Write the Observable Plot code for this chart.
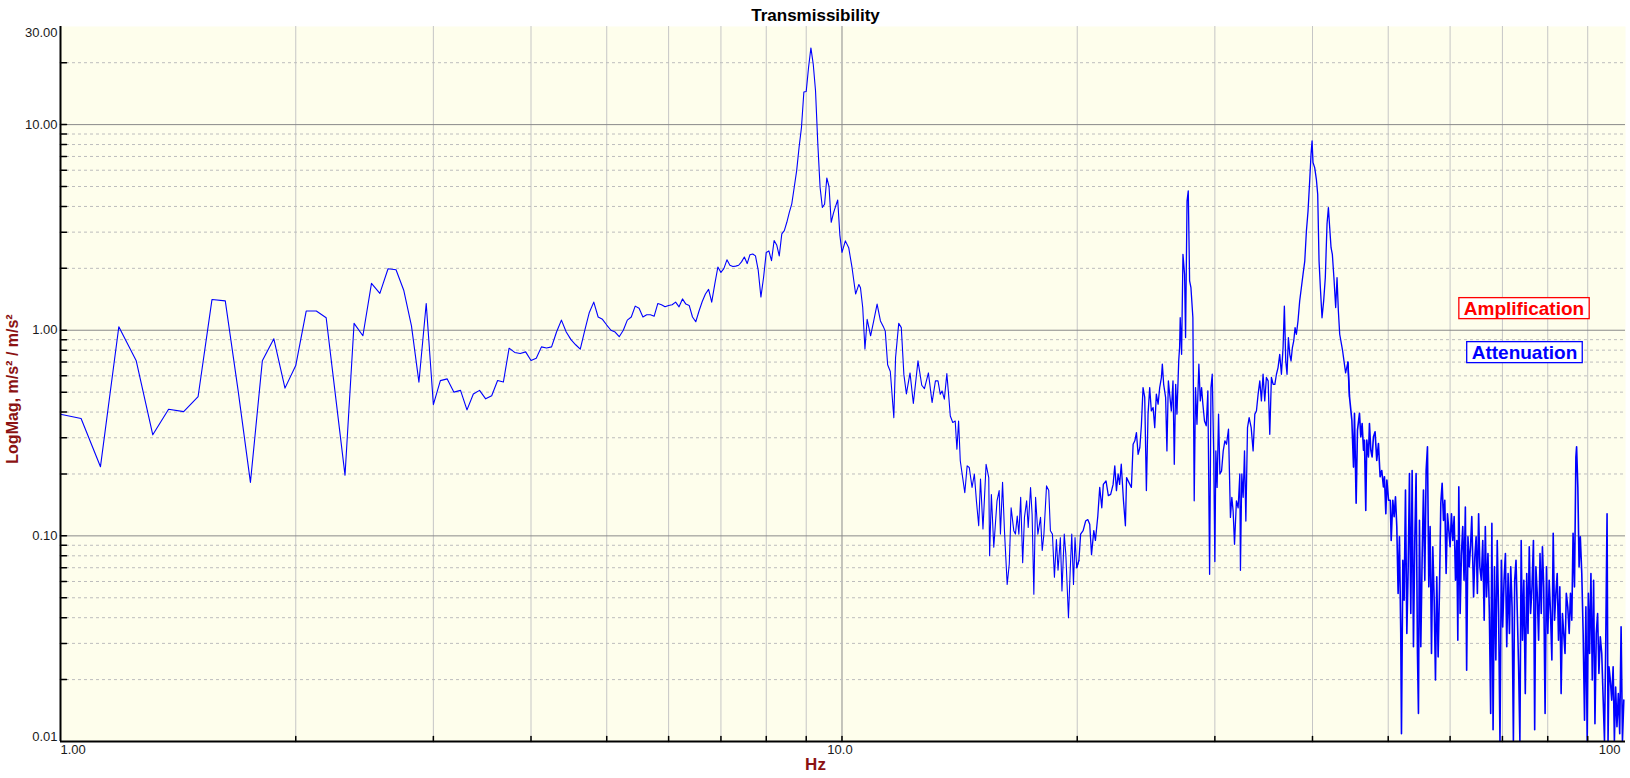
<!DOCTYPE html>
<html><head><meta charset="utf-8">
<script src="https://cdn.jsdelivr.net/npm/d3@7"></script>
<script src="https://cdn.jsdelivr.net/npm/@observablehq/plot@0.6"></script>
<style>html,body{margin:0;padding:0;background:#fff;} svg{display:block}</style>
</head><body><div id="chart"></div>
<script>
// ---- Data ----
// Low-frequency bins: 1 Hz onward at 0.0625 Hz resolution, magnitude per bin
const lowStartHz = 1, lowStepHz = 0.0625;
const lowMag = [
  0.39, 0.372, 0.217, 1.04, 0.71, 0.31, 0.413, 0.402, 0.476, 1.41, 1.39, 0.51, 0.182, 0.71, 0.908, 0.523,
  0.673, 1.24, 1.24, 1.15, 0.47, 0.197, 1.08, 0.94, 1.69, 1.51, 1.99, 1.97, 1.56, 1.05, 0.559, 1.35,
  0.435, 0.569, 0.58, 0.50, 0.51, 0.41, 0.49, 0.51, 0.464, 0.48, 0.57, 0.56, 0.818, 0.78, 0.77, 0.785,
  0.712, 0.73, 0.83, 0.82, 0.83, 0.98, 1.12, 0.98, 0.90, 0.85, 0.81, 1.0, 1.22, 1.37, 1.16, 1.13,
  1.06, 1.0, 0.98, 0.93, 1.0, 1.12, 1.16, 1.31, 1.28, 1.16, 1.19, 1.19, 1.17, 1.35, 1.33, 1.30,
  1.32, 1.33, 1.37, 1.30, 1.42, 1.34, 1.32, 1.16, 1.10, 1.24, 1.38, 1.50, 1.58, 1.37, 1.68, 2.03,
  1.91, 2.0, 2.20, 2.07, 2.04, 2.05, 2.07, 2.15, 2.27, 2.11, 2.33, 2.35, 2.30, 1.96, 1.45, 1.81,
  2.39, 2.43, 2.18, 2.73, 2.6, 2.3, 2.94, 3.05, 3.35, 3.74, 4.12, 4.96, 5.97, 7.76, 9.7, 14.4,
  14.5, 19.0, 23.6, 19.7, 14.6, 8.06, 4.96, 3.96, 4.1, 5.5, 5.0, 3.35, 3.7, 4.0, 4.3, 2.9
];
// Higher frequencies: [Hz, magnitude] vertices
const band10to20 = [[10.00,2.39],[10.10,2.72],[10.20,2.52],[10.30,2.02],[10.41,1.50],[10.51,1.67],[10.56,1.61],[10.63,1.29],[10.70,0.81],[10.77,1.13],[10.88,0.94],[10.98,1.11],[11.09,1.34],[11.20,1.11],[11.31,1.03],[11.36,0.99],[11.44,0.68],[11.53,0.63],[11.65,0.376],[11.71,0.736],[11.82,1.08],[11.91,1.03],[12.00,0.61],[12.09,0.49],[12.22,0.62],[12.34,0.44],[12.51,0.71],[12.65,0.54],[12.75,0.52],[12.90,0.62],[13.04,0.445],[13.17,0.567],[13.27,0.567],[13.36,0.488],[13.43,0.507],[13.52,0.462],[13.62,0.615],[13.69,0.488],[13.76,0.383],[13.86,0.356],[13.96,0.362],[14.03,0.264],[14.10,0.362],[14.17,0.232],[14.27,0.192],[14.36,0.162],[14.46,0.219],[14.55,0.215],[14.67,0.172],[14.77,0.200],[14.86,0.148],[14.96,0.112],[15.04,0.189],[15.15,0.108],[15.29,0.223],[15.41,0.192],[15.45,0.080],[15.53,0.159],[15.64,0.088],[15.79,0.148],[15.89,0.166],[15.95,0.102],[16.05,0.182],[16.14,0.106],[16.27,0.058],[16.37,0.073],[16.46,0.137],[16.59,0.106],[16.67,0.102],[16.76,0.125],[16.84,0.102],[16.93,0.154],[17.03,0.074],[17.12,0.123],[17.23,0.148],[17.31,0.110],[17.43,0.172],[17.51,0.127],[17.60,0.052],[17.69,0.154],[17.81,0.102],[17.95,0.123],[18.04,0.085],[18.13,0.102],[18.27,0.175],[18.39,0.166],[18.48,0.106],[18.59,0.102],[18.70,0.063],[18.81,0.096],[18.90,0.068],[19.03,0.098],[19.12,0.054],[19.25,0.102],[19.34,0.081],[19.49,0.040],[19.59,0.068],[19.68,0.102],[19.78,0.058],[19.87,0.098],[19.97,0.070]];
const band20to43 = [[20.10,0.076],[20.20,0.102],[20.35,0.106],[20.50,0.118],[20.63,0.120],[20.75,0.114],[20.86,0.081],[21.00,0.106],[21.10,0.095],[21.25,0.125],[21.37,0.172],[21.50,0.137],[21.60,0.178],[21.77,0.185],[21.92,0.157],[22.07,0.159],[22.23,0.178],[22.34,0.219],[22.45,0.166],[22.56,0.200],[22.66,0.178],[22.77,0.223],[22.92,0.148],[23.05,0.112],[23.13,0.192],[23.46,0.172],[23.58,0.279],[23.70,0.290],[23.81,0.318],[23.93,0.249],[24.05,0.269],[24.16,0.343],[24.28,0.526],[24.40,0.471],[24.52,0.166],[24.64,0.391],[24.76,0.526],[24.88,0.405],[25.01,0.421],[25.13,0.336],[25.25,0.489],[25.38,0.437],[25.50,0.526],[25.63,0.589],[25.70,0.684],[25.80,0.546],[25.95,0.471],[26.05,0.259],[26.16,0.567],[26.26,0.489],[26.39,0.405],[26.52,0.567],[26.62,0.223],[26.73,0.546],[26.83,0.391],[26.97,0.709],[27.04,0.824],[27.09,1.15],[27.20,0.764],[27.31,2.34],[27.44,1.87],[27.52,0.921],[27.64,4.25],[27.74,4.76],[27.85,1.74],[27.96,1.61],[28.12,1.15],[28.23,0.148],[28.34,0.526],[28.46,0.349],[28.62,0.684],[28.74,0.453],[28.85,0.526],[28.96,0.437],[29.10,0.362],[29.25,0.343],[29.39,0.507],[29.54,0.065],[29.66,0.526],[29.77,0.611],[29.90,0.249],[30.00,0.075],[30.09,0.259],[30.20,0.172],[30.33,0.391],[30.45,0.200],[30.60,0.207],[30.75,0.259],[30.90,0.290],[31.05,0.279],[31.23,0.330],[31.41,0.123],[31.54,0.154],[31.66,0.132],[31.79,0.091],[31.97,0.148],[32.13,0.137],[32.29,0.200],[32.35,0.068],[32.48,0.200],[32.61,0.154],[32.74,0.259],[32.87,0.118],[33.03,0.336],[33.19,0.376],[33.39,0.336],[33.58,0.259],[33.75,0.391],[33.91,0.405],[34.08,0.489],[34.25,0.567],[34.41,0.453],[34.58,0.611],[34.75,0.453],[34.92,0.589],[35.10,0.567],[35.27,0.312],[35.44,0.589],[35.62,0.546],[35.80,0.546],[35.97,0.611],[36.14,0.658],[36.32,0.764],[36.50,0.611],[36.68,0.824],[36.82,1.31],[36.97,0.709],[37.11,0.611],[37.26,0.921],[37.41,0.764],[37.55,0.709],[37.70,0.824],[37.85,0.887],[38.00,1.03],[38.15,0.956],[38.33,1.11],[38.52,1.39],[38.71,1.61],[38.90,1.87],[39.10,2.17],[39.29,3.04],[39.48,3.80],[39.67,5.32],[39.83,7.17],[39.95,8.33],[40.06,6.54],[40.26,6.18],[40.46,5.42],[40.62,4.58],[40.78,2.17],[40.94,1.61],[41.14,1.15],[41.34,1.39],[41.54,1.80],[41.75,3.28],[41.92,3.95],[42.08,3.16],[42.25,2.52],[42.41,2.34],[42.62,1.77],[42.83,1.29],[43.00,1.80],[43.17,1.24],[43.34,0.956]];
const band43to100 = [[43.70,0.80],[44.10,0.62],[44.40,0.70],[44.61,0.474],[44.92,0.365],[45.14,0.216],[45.27,0.394],[45.49,0.144],[45.67,0.327],[45.94,0.394],[46.12,0.303],[46.30,0.352],[46.49,0.261],[46.62,0.292],[46.80,0.133],[46.94,0.292],[47.17,0.242],[47.31,0.352],[47.50,0.261],[47.68,0.242],[47.87,0.303],[48.10,0.321],[48.34,0.233],[48.58,0.281],[48.82,0.194],[49.06,0.208],[49.30,0.173],[49.45,0.194],[49.65,0.128],[49.80,0.187],[50.05,0.149],[50.30,0.149],[50.44,0.095],[50.68,0.149],[50.88,0.124],[51.08,0.155],[51.28,0.111],[51.48,0.0525],[51.68,0.099],[51.88,0.0335],[51.99,0.0109],[52.20,0.076],[52.40,0.0487],[52.61,0.167],[52.82,0.0335],[53.03,0.0707],[53.23,0.201],[53.44,0.0419],[53.65,0.208],[53.86,0.0289],[54.07,0.095],[54.28,0.201],[54.50,0.0268],[54.66,0.0137],[54.82,0.119],[55.04,0.0289],[55.25,0.076],[55.47,0.167],[55.69,0.0608],[55.91,0.208],[56.13,0.271],[56.35,0.0565],[56.57,0.111],[56.80,0.0268],[57.02,0.0885],[57.25,0.0487],[57.47,0.0199],[57.69,0.0632],[57.92,0.0258],[58.15,0.0544],[58.38,0.144],[58.61,0.180],[58.84,0.119],[59.07,0.149],[59.30,0.0656],[59.54,0.128],[59.77,0.107],[60.00,0.0885],[60.24,0.128],[60.48,0.095],[60.72,0.124],[60.96,0.0608],[61.20,0.095],[61.38,0.0311],[61.56,0.173],[61.80,0.0419],[62.04,0.082],[62.28,0.111],[62.52,0.0608],[62.76,0.138],[63.00,0.0222],[63.24,0.099],[63.48,0.0707],[63.72,0.0885],[63.96,0.124],[64.30,0.0505],[64.54,0.079],[64.78,0.099],[65.02,0.0525],[65.26,0.128],[65.50,0.0707],[65.78,0.0608],[66.06,0.095],[66.34,0.0389],[66.56,0.111],[66.80,0.0505],[67.08,0.082],[67.36,0.0419],[67.62,0.0137],[67.86,0.115],[68.10,0.0114],[68.38,0.0707],[68.66,0.0249],[68.94,0.095],[69.22,0.0419],[69.50,0.0101],[69.78,0.076],[70.06,0.0361],[70.34,0.0608],[70.62,0.082],[70.90,0.0289],[71.18,0.0656],[71.46,0.0335],[71.74,0.0707],[72.02,0.0452],[72.30,0.0101],[72.58,0.0608],[72.86,0.076],[73.14,0.0419],[73.42,0.0231],[73.70,0.0101],[73.98,0.095],[74.26,0.0311],[74.56,0.0608],[74.88,0.0171],[75.20,0.0656],[75.48,0.0335],[75.76,0.0885],[76.06,0.0419],[76.38,0.0565],[76.70,0.095],[76.98,0.0114],[77.26,0.0707],[77.56,0.0525],[77.88,0.0311],[78.20,0.082],[78.48,0.0419],[78.76,0.0885],[79.06,0.0565],[79.38,0.0137],[79.70,0.0707],[80.02,0.0335],[80.34,0.0608],[80.66,0.0419],[80.98,0.0249],[81.30,0.103],[81.62,0.0389],[81.94,0.0525],[82.26,0.0656],[82.58,0.0311],[82.90,0.0565],[83.22,0.0171],[83.54,0.0419],[83.86,0.0335],[84.18,0.0268],[84.50,0.0525],[84.86,0.0452],[85.22,0.0335],[85.54,0.0525],[85.88,0.0389],[86.20,0.103],[86.56,0.0565],[86.92,0.242],[87.10,0.271],[87.42,0.173],[87.74,0.0707],[88.06,0.099],[88.44,0.0656],[88.80,0.0335],[89.16,0.0127],[89.52,0.0452],[89.86,0.0101],[90.18,0.0525],[90.50,0.0268],[90.86,0.0656],[91.22,0.0199],[91.58,0.0608],[91.94,0.0122],[92.30,0.0335],[92.66,0.0419],[93.02,0.0214],[93.40,0.0323],[93.80,0.0268],[94.20,0.0159],[94.56,0.0101],[94.92,0.0311],[95.28,0.128],[95.56,0.0101],[95.82,0.0231],[96.20,0.0199],[96.60,0.0159],[97.00,0.0231],[97.36,0.0101],[97.72,0.0184],[98.10,0.0118],[98.50,0.0171],[98.90,0.0109],[99.30,0.0361],[99.70,0.0101],[100.10,0.0159]];

const xDomain = [1, 100.6];
const yDomain = [0.01, 30];
const xGrid = [2, 3, 4, 5, 6, 7, 8, 9, 20, 30, 40, 50, 60, 70, 80, 90];
const xDecade = [10];
const yMajor = [0.1, 1, 10];
const yMinor = [0.02,0.03,0.04,0.05,0.06,0.07,0.08,0.09,0.2,0.3,0.4,0.5,0.6,0.7,0.8,0.9,2,3,4,5,6,7,8,9,20];
const yTickValues = [30, 10, 1, 0.1, 0.01];
const yTickLabels = ["30.00", "10.00", "1.00", "0.10", "0.01"];
const xTickValues = [1, 10, 100];
const xTickLabels = ["1.00", "10.0", "100"];
const titleText = "Transmissibility";
const xLabel = "Hz";
const yLabel = "LogMag, m/s² / m/s²";
const annotations = [
  {f: 74.6, v: 1.275, text: "Amplification"},
  {f: 74.7, v: 0.779, text: "Attenuation"}
];

// ---- Build table ----
const data = [
  ...lowMag.map((v, i) => ({f: lowStartHz + i * lowStepHz, v})),
  ...[...band10to20, ...band20to43, ...band43to100].map(([f, v]) => ({f, v}))
];
const yTicks = yTickValues.map((v, i) => ({v, label: yTickLabels[i]}));
const xTicks = xTickValues.map((f, i) => ({f, label: xTickLabels[i]}));

const tickShape = {draw(context, l) { context.moveTo(0, 0); context.lineTo(0, -l); }};
const font = "'Liberation Sans', Arial, sans-serif";
const labelColor = "#8b1212";

const chart = Plot.plot({
  width: 1630, height: 778,
  marginLeft: 60, marginRight: 5, marginTop: 26, marginBottom: 37,
  style: {background: "#ffffff", fontFamily: font, fontSize: "13px", color: "#000"},
  x: {type: "log", domain: xDomain, axis: null},
  y: {type: "log", domain: yDomain, axis: null},
  marks: [
    Plot.frame({fill: "#fefeec", stroke: "none"}),
    Plot.ruleX(xGrid, {stroke: "#c6c6c6", strokeWidth: 1}),
    Plot.ruleX(xDecade, {stroke: "#8a8a8a", strokeWidth: 1}),
    Plot.ruleY(yMinor, {stroke: "#bdbdbd", strokeWidth: 1, strokeDasharray: "3,3"}),
    Plot.ruleY(yMajor, {stroke: "#8a8a8a", strokeWidth: 1}),
    Plot.line(data.filter(d => d.f <= 20.1), {x: "f", y: "v", stroke: "#0000ff", strokeWidth: 1.1, clip: true}),
    Plot.line(data.filter(d => d.f >= 19.97 && d.f <= 44.61), {x: "f", y: "v", stroke: "#0000ff", strokeWidth: 1.3, clip: true}),
    Plot.line(data.filter(d => d.f >= 44.4), {x: "f", y: "v", stroke: "#0000ff", strokeWidth: 1.6, clip: true}),
    // inward tick marks
    Plot.vector([...yMinor, ...yMajor], {y: d => d, frameAnchor: "left", length: 6, rotate: 90, anchor: "start", shape: tickShape, stroke: "#000"}),
    Plot.vector([...xGrid, ...xDecade], {x: d => d, frameAnchor: "bottom", length: 5, rotate: 0, anchor: "start", shape: tickShape, stroke: "#000"}),
    // axis lines
    Plot.ruleX([xDomain[0]], {stroke: "#000", strokeWidth: 2}),
    Plot.ruleY([yDomain[0]], {stroke: "#000", strokeWidth: 2}),
    // y tick labels
    Plot.text(yTicks.filter(d => d.v === yDomain[1]), {y: "v", text: "label", frameAnchor: "left", textAnchor: "end", dx: -3, dy: 6, fill: "#1a1a1a", fontSize: 13}),
    Plot.text(yTicks.filter(d => d.v !== yDomain[1] && d.v !== yDomain[0]), {y: "v", text: "label", frameAnchor: "left", textAnchor: "end", dx: -3, fill: "#1a1a1a", fontSize: 13}),
    Plot.text(yTicks.filter(d => d.v === yDomain[0]), {y: "v", text: "label", frameAnchor: "left", textAnchor: "end", dx: -3, dy: -5, fill: "#1a1a1a", fontSize: 13}),
    // x tick labels
    Plot.text(xTicks.filter(d => d.f === 1), {x: "f", text: "label", frameAnchor: "bottom", textAnchor: "start", dy: 12, fill: "#1a1a1a", fontSize: 13}),
    Plot.text(xTicks.filter(d => d.f === 10), {x: "f", text: "label", frameAnchor: "bottom", textAnchor: "middle", dx: -2, dy: 12, fill: "#1a1a1a", fontSize: 13}),
    Plot.text(xTicks.filter(d => d.f === 100), {x: "f", text: "label", frameAnchor: "bottom", textAnchor: "end", dx: -3, dy: 12, fill: "#1a1a1a", fontSize: 13}),
    // titles
    Plot.text([titleText], {text: d => d, frameAnchor: "top", textAnchor: "middle", dx: -27.5, dy: -18, fontWeight: "bold", fontSize: 17, fill: "#000"}),
    Plot.text([xLabel], {text: d => d, frameAnchor: "bottom", textAnchor: "middle", dx: -27.5, dy: 28, fontWeight: "bold", fontSize: 17, fill: labelColor}),
    Plot.text([yLabel], {text: d => d, frameAnchor: "left", textAnchor: "middle", rotate: -90, dx: -48, dy: 5, fontWeight: "bold", fontSize: 16, fill: labelColor}),
    // annotations
    Plot.text(annotations.filter(d => d.text === "Amplification"), {x: "f", y: "v", text: "text", fill: "#ff0000", fontWeight: "bold", fontSize: 19}),
    Plot.text(annotations.filter(d => d.text === "Attenuation"), {x: "f", y: "v", text: "text", fill: "#0000ff", fontWeight: "bold", fontSize: 19})
  ]
});
document.getElementById("chart").appendChild(chart);

// boxed annotation labels
const boxColors = {"Amplification": "#ff0000", "Attenuation": "#0000ff"};
chart.querySelectorAll("text").forEach(t => {
  const c = boxColors[t.textContent];
  if (!c) return;
  const b = t.getBBox();
  const r = document.createElementNS("http://www.w3.org/2000/svg", "rect");
  r.setAttribute("x", b.x - 5);
  r.setAttribute("y", b.y);
  r.setAttribute("width", b.width + 10);
  r.setAttribute("height", b.height);
  r.setAttribute("fill", "#ffffff");
  r.setAttribute("stroke", c);
  r.setAttribute("stroke-width", 1.3);
  if (t.getAttribute("transform")) r.setAttribute("transform", t.getAttribute("transform"));
  t.parentNode.insertBefore(r, t);
});
</script></body></html>
